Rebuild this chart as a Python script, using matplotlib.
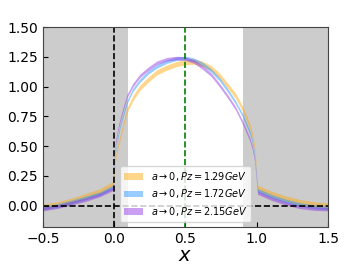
import numpy as np
from matplotlib import pyplot as plt

# momentum fraction grid
x = [-0.5, -0.4, -0.3, -0.2, -0.1, -0.01, 0.003, 0.008, 0.017, 0.028, 0.04, 0.06,
     0.09, 0.13, 0.18, 0.24, 0.3, 0.37, 0.44, 0.5, 0.56, 0.62, 0.68, 0.74, 0.8,
     0.85, 0.9, 0.95, 0.965, 0.975, 0.985, 0.995, 1.005, 1.1, 1.2, 1.3, 1.4, 1.5]

# central values
pz129 = [-0.01, 0.01, 0.04, 0.08, 0.12, 0.18, 0.3, 0.38, 0.45, 0.51, 0.56, 0.66,
         0.8, 0.9, 0.99, 1.06, 1.12, 1.16, 1.19, 1.205, 1.21, 1.19, 1.155, 1.09, 1.0,
         0.925, 0.815, 0.67, 0.61, 0.56, 0.48, 0.34, 0.15, 0.1, 0.06, 0.03, 0.01, 0.0]
pz172 = [-0.02, 0.0, 0.03, 0.065, 0.1, 0.155, 0.38, 0.46, 0.53, 0.59, 0.66, 0.75,
         0.87, 0.97, 1.05, 1.12, 1.17, 1.21, 1.235, 1.24, 1.225, 1.19, 1.135, 1.06, 0.96,
         0.87, 0.76, 0.62, 0.56, 0.5, 0.42, 0.29, 0.13, 0.08, 0.04, 0.01, -0.01, -0.02]
pz215 = [-0.03, -0.01, 0.02, 0.05, 0.09, 0.14, 0.45, 0.52, 0.58, 0.65, 0.71, 0.8,
         0.92, 1.01, 1.09, 1.15, 1.2, 1.23, 1.24, 1.235, 1.21, 1.16, 1.1, 1.01, 0.91,
         0.82, 0.7, 0.56, 0.5, 0.45, 0.38, 0.25, 0.11, 0.06, 0.02, -0.01, -0.025, -0.03]

# band half widths
err129 = 0.022
err172 = 0.015
err215 = 0.015

labels = [r'$a\to0, Pz=1.29GeV$', r'$a\to0, Pz=1.72GeV$', r'$a\to0, Pz=2.15GeV$']
colors = ['orange', 'dodgerblue', 'blueviolet']

fig = plt.figure(figsize=(3.57, 2.68), dpi=100)
ax = fig.add_axes([0.12, 0.153, 0.799, 0.746])

ax.axvspan(-0.5, 0.1, color='grey', alpha=0.4, lw=0)
ax.axvspan(0.9, 1.5, color='grey', alpha=0.4, lw=0)

xs = np.array(x)
for vals, err, lab, col in zip([pz129, pz172, pz215], [err129, err172, err215], labels, colors):
    v = np.array(vals)
    ax.fill_between(xs, v - err, v + err, color=col, alpha=0.45, lw=0, label=lab)

ax.axvline(0, color='k', ls='--', lw=1.2)
ax.axhline(0, color='k', ls='--', lw=1.2)
ax.axvline(0.5, color='green', ls='--', lw=1.2)

ax.set_xlim(-0.5, 1.5)
ax.set_ylim(-0.18, 1.5)
ax.set_xticks([-0.5, 0.0, 0.5, 1.0, 1.5])
ax.set_yticks([0.0, 0.25, 0.5, 0.75, 1.0, 1.25, 1.5])
ax.tick_params(direction='in', labelsize=10)
for s in ax.spines.values():
    s.set_color('#444444')
ax.set_xlabel(r'$x$', fontsize=14, labelpad=0)

ax.legend(loc='lower center', fontsize=7)

fig.savefig('out.png', dpi=100)
